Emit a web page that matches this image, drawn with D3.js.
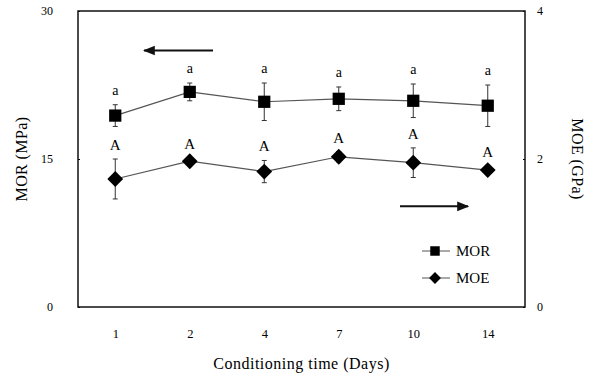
<!DOCTYPE html>
<html>
<head>
<meta charset="utf-8">
<script src="https://cdn.jsdelivr.net/npm/d3@7"></script>
<style>
  body { margin: 0; background: #fff; }
  text { font-family: "Liberation Serif", "DejaVu Serif", serif; fill: #000; }
</style>
</head>
<body>
<div id="chart"></div>
<script>
// conditioning days (categories)
var days = ["1", "2", "4", "7", "10", "14"]
// MOR in MPa (left axis)
var morMean = [19.4, 21.8, 20.8, 21.1, 20.9, 20.4]
var morErr = [1.1, 0.9, 1.9, 1.2, 1.7, 2.1]
var morLetters = ["a", "a", "a", "a", "a", "a"]
// MOE in GPa (right axis)
var moeMean = [1.73, 1.97, 1.83, 2.03, 1.95, 1.85]
var moeErr = [0.27, 0.05, 0.15, 0.07, 0.2, 0.05]
var moeLetters = ["A", "A", "A", "A", "A", "A"]
var leftTicks = [0, 15, 30]
var rightTicks = [0, 2, 4]

var margin = {top: 11, right: 72, bottom: 70, left: 78},
    width = 597 - margin.left - margin.right,
    height = 377 - margin.top - margin.bottom

var svg = d3.select("#chart")
  .append("svg")
    .attr("width", width + margin.left + margin.right)
    .attr("height", height + margin.top + margin.bottom)
  .append("g")
    .attr("transform", "translate(" + margin.left + "," + margin.top + ")")

var x = d3.scalePoint()
  .domain(days)
  .range([0, width])
  .padding(0.5)

var yL = d3.scaleLinear().domain([0, 30]).range([height, 0])
var yR = d3.scaleLinear().domain([0, 4]).range([height, 0])

// axes (labels only, tiny inner ticks)
svg.append("g")
  .call(d3.axisLeft(yL).tickValues(leftTicks).tickSize(-2).tickPadding(25))
  .call(g => g.select(".domain").remove())
  .call(g => g.selectAll("text").style("font-size", "12px").attr("font-family", null))

svg.append("g")
  .attr("transform", "translate(" + width + ",0)")
  .call(d3.axisRight(yR).tickValues(rightTicks).tickFormat(d3.format("d")).tickSize(-2).tickPadding(12))
  .call(g => g.select(".domain").remove())
  .call(g => g.selectAll("text").style("font-size", "12px").attr("font-family", null))

svg.append("g")
  .attr("transform", "translate(0," + height + ")")
  .call(d3.axisBottom(x).tickSize(0).tickPadding(22))
  .call(g => g.select(".domain").remove())
  .call(g => g.selectAll("text").style("font-size", "12.5px").attr("font-family", null))

// frame
svg.append("rect")
  .attr("width", width)
  .attr("height", height)
  .attr("fill", "none")
  .attr("stroke", "#111")
  .attr("stroke-width", 1.5)

// axis titles
svg.append("text")
  .attr("transform", "translate(-51," + (height / 2) + ") rotate(-90)")
  .attr("text-anchor", "middle")
  .style("font-size", "16px")
  .style("letter-spacing", "0.4px")
  .text("MOR (MPa)")

svg.append("text")
  .attr("transform", "translate(" + (width + 47) + "," + (height / 2) + ") rotate(90)")
  .attr("text-anchor", "middle")
  .style("font-size", "16px")
  .style("letter-spacing", "0.4px")
  .text("MOE (GPa)")

svg.append("text")
  .attr("x", width / 2)
  .attr("y", height + 62)
  .attr("text-anchor", "middle")
  .style("font-size", "16px")
  .style("letter-spacing", "0.5px")
  .text("Conditioning time (Days)")

// direction arrows
svg.append("defs").append("marker")
  .attr("id", "head")
  .attr("viewBox", "0 0 10 10")
  .attr("refX", 9).attr("refY", 5)
  .attr("markerWidth", 6).attr("markerHeight", 6)
  .attr("orient", "auto-start-reverse")
  .append("path").attr("d", "M0,1L10,5L0,9Z").attr("fill", "#111")

svg.append("line")
  .attr("x1", 135).attr("x2", 66)
  .attr("y1", yL(26)).attr("y2", yL(26))
  .attr("stroke", "#111").attr("stroke-width", 2)
  .attr("marker-end", "url(#head)")

svg.append("line")
  .attr("x1", 322).attr("x2", 390)
  .attr("y1", yR(1.36)).attr("y2", yR(1.36))
  .attr("stroke", "#111").attr("stroke-width", 2)
  .attr("marker-end", "url(#head)")

function drawSeries(mean, err, letters, y, rot, size, offset, fs) {
  var d = days.map((k, i) => ({day: k, m: mean[i], e: err[i], t: letters[i]}))

  // error bars
  svg.selectAll(null).data(d).enter().append("line")
    .attr("x1", p => x(p.day)).attr("x2", p => x(p.day))
    .attr("y1", p => y(p.m - p.e)).attr("y2", p => y(p.m + p.e))
    .attr("stroke", "#333").attr("stroke-width", 1)
  svg.selectAll(null).data(d.concat(d)).enter().append("line")
    .attr("x1", p => x(p.day) - 2.5).attr("x2", p => x(p.day) + 2.5)
    .attr("y1", (p, i) => i < d.length ? y(p.m - p.e) : y(p.m + p.e))
    .attr("y2", (p, i) => i < d.length ? y(p.m - p.e) : y(p.m + p.e))
    .attr("stroke", "#333").attr("stroke-width", 1)

  // connecting line
  svg.append("path")
    .datum(d)
    .attr("fill", "none")
    .attr("stroke", "#555")
    .attr("stroke-width", 1.2)
    .attr("d", d3.line().x(p => x(p.day)).y(p => y(p.m)))

  // markers
  svg.selectAll(null).data(d).enter().append("path")
    .attr("transform", p => "translate(" + x(p.day) + "," + y(p.m) + ") rotate(" + rot + ")")
    .attr("d", d3.symbol().type(d3.symbolSquare).size(size))
    .attr("fill", "#000")

  // significance letters
  svg.selectAll(null).data(d).enter().append("text")
    .attr("x", p => x(p.day))
    .attr("y", p => y(p.m + p.e) - offset)
    .attr("text-anchor", "middle")
    .style("font-size", fs)
    .text(p => p.t)
}

drawSeries(morMean, morErr, morLetters, yL, 0, 150, 10, "14px")
drawSeries(moeMean, moeErr, moeLetters, yR, 45, 125, 9, "15px")

// legend
var legend = [
  {name: "MOR", rot: 0, size: 90, py: 251},
  {name: "MOE", rot: 45, size: 70, py: 278}
]
var lg = svg.selectAll(null).data(legend).enter().append("g")
  .attr("transform", p => "translate(" + (435 - margin.left) + "," + (p.py - margin.top) + ")")
lg.append("line")
  .attr("x1", -13).attr("x2", 15)
  .attr("stroke", "#555").attr("stroke-width", 1)
lg.append("path")
  .attr("transform", p => "rotate(" + p.rot + ")")
  .attr("d", d3.symbol().type(d3.symbolSquare).size(p => p.size))
  .attr("fill", "#000")
lg.append("text")
  .attr("x", 21)
  .attr("dy", "0.35em")
  .style("font-size", "15px")
  .text(p => p.name)
</script>
</body>
</html>
